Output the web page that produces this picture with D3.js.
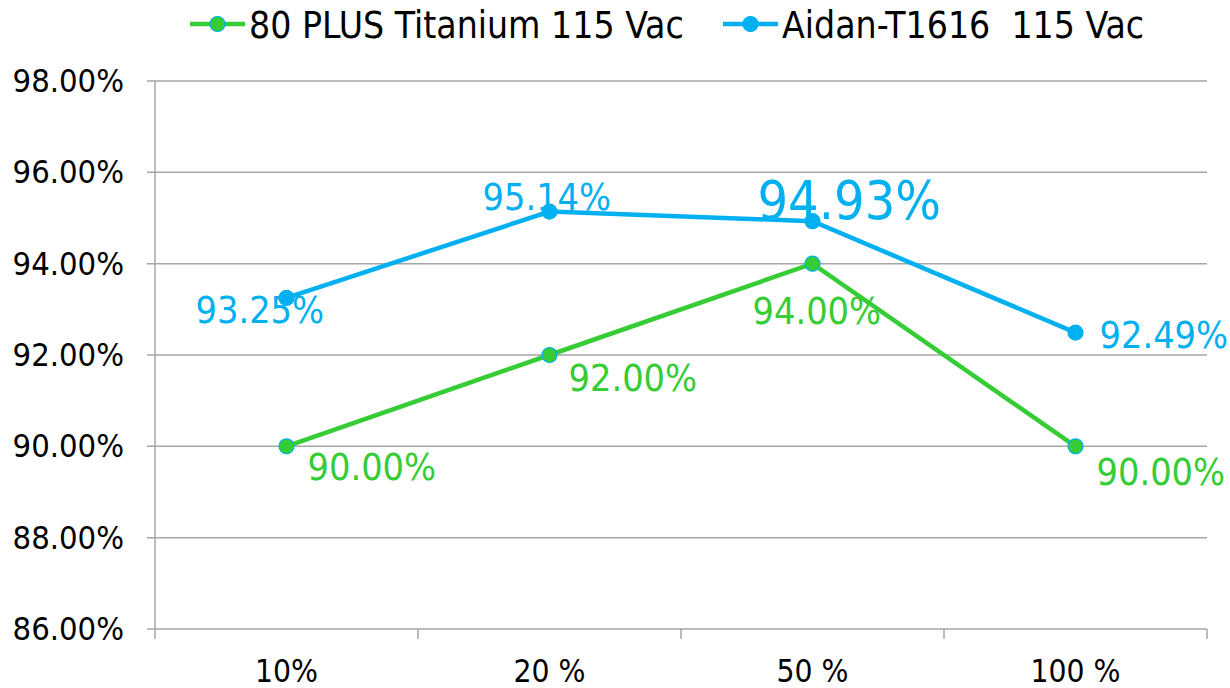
<!DOCTYPE html>
<html>
<head>
<meta charset="utf-8">
<script src="https://cdn.jsdelivr.net/npm/d3@7/dist/d3.min.js"></script>
<style>
  html, body { margin: 0; padding: 0; background: #fff; }
  svg text { font-family: "DejaVu Sans Condensed", "DejaVu Sans", sans-serif; white-space: pre; }
</style>
</head>
<body>
<svg id="chart" width="1230" height="688"></svg>
<script>
'use strict';

// data
var categories = ["10%", "20 %", "50 %", "100 %"];
var titaniumValues = [90.00, 92.00, 94.00, 90.00];
var aidanValues = [93.25, 95.14, 94.93, 92.49];
var seriesNames = ["80 PLUS Titanium 115 Vac", "Aidan-T1616  115 Vac"];
var yTicks = [86, 88, 90, 92, 94, 96, 98];

// label placement (offset from the point, text start)
var titaniumLabelPos = [[21, 34], [19, 36], [-60, 60], [21, 39]];
var aidanLabelPos = [[-91, 25], [-67, -2], [-55, -2], [24, 15]];
var aidanLabelSize = [37.5, 37.5, 53.5, 37.5];

var green = "#35cc35", blue = "#00b0f0", gridColor = "#a6a6a6";
var margin = {top: 81, right: 23, bottom: 59, left: 155};
var W = 1230, H = 688;
var width = W - margin.left - margin.right,
    height = H - margin.top - margin.bottom;

var svg = d3.select("#chart");
var g = svg.append("g").attr("transform", "translate(" + margin.left + "," + margin.top + ")");

var x = d3.scaleBand().domain(categories).range([0, width]).padding(0);
var y = d3.scaleLinear().domain([86, 98]).range([height, 0]);

// horizontal grid + y labels
g.selectAll(".grid")
  .data(yTicks)
  .enter().append("line")
  .attr("class", "grid")
  .attr("x1", -8).attr("x2", width)
  .attr("y1", function(d){ return y(d); })
  .attr("y2", function(d){ return y(d); })
  .attr("stroke", gridColor)
  .attr("stroke-width", 1.5);

g.selectAll(".ylab")
  .data(yTicks)
  .enter().append("text")
  .attr("class", "ylab")
  .attr("x", -31)
  .attr("y", function(d){ return y(d) + 11; })
  .attr("text-anchor", "end")
  .attr("font-size", 32.5)
  .attr("fill", "#000")
  .text(function(d){ return d.toFixed(2) + "%"; });

// y axis line
g.append("line")
  .attr("x1", 0).attr("x2", 0)
  .attr("y1", 0).attr("y2", height)
  .attr("stroke", gridColor).attr("stroke-width", 1.5);

// x ticks at band edges
var edges = categories.map(function(c){ return x(c); }).concat([width]);
g.selectAll(".xtick")
  .data(edges)
  .enter().append("line")
  .attr("x1", function(d){ return d; })
  .attr("x2", function(d){ return d; })
  .attr("y1", height).attr("y2", height + 10)
  .attr("stroke", gridColor).attr("stroke-width", 1.5);

g.selectAll(".xlab")
  .data(categories)
  .enter().append("text")
  .attr("x", function(d){ return x(d) + x.bandwidth() / 2; })
  .attr("y", height + 53)
  .attr("text-anchor", "middle")
  .attr("font-size", 31.5)
  .attr("fill", "#000")
  .text(function(d){ return d; });

var line = d3.line()
  .x(function(d, i){ return x(categories[i]) + x.bandwidth() / 2; })
  .y(function(d){ return y(d); });

function drawSeries(values, color, markerStroke, labelPos, labelSize){
  g.append("path")
    .datum(values)
    .attr("d", line)
    .attr("fill", "none")
    .attr("stroke", color)
    .attr("stroke-width", 4.5);

  g.selectAll(null)
    .data(values)
    .enter().append("circle")
    .attr("cx", function(d, i){ return x(categories[i]) + x.bandwidth() / 2; })
    .attr("cy", function(d){ return y(d); })
    .attr("r", 7.5)
    .attr("fill", color)
    .attr("stroke", markerStroke)
    .attr("stroke-width", 1.2);

  g.selectAll(null)
    .data(values)
    .enter().append("text")
    .attr("x", function(d, i){ return x(categories[i]) + x.bandwidth() / 2 + labelPos[i][0]; })
    .attr("y", function(d, i){ return y(d) + labelPos[i][1]; })
    .attr("font-size", function(d, i){ return labelSize[i]; })
    .attr("fill", color)
    .text(function(d){ return d.toFixed(2) + "%"; });
}

drawSeries(titaniumValues, green, blue, titaniumLabelPos, [37.5, 37.5, 37.5, 37.5]);
drawSeries(aidanValues, blue, blue, aidanLabelPos, aidanLabelSize);

// legend
var legend = [
  {name: seriesNames[0], color: green, stroke: blue, x: 190},
  {name: seriesNames[1], color: blue, stroke: blue, x: 723}
];
var lg = svg.selectAll(".legend")
  .data(legend)
  .enter().append("g")
  .attr("transform", function(d){ return "translate(" + d.x + ",24)"; });
lg.append("line")
  .attr("x1", 0).attr("x2", 55).attr("y1", 0).attr("y2", 0)
  .attr("stroke", function(d){ return d.color; })
  .attr("stroke-width", 4.5);
lg.append("circle")
  .attr("cx", 27.5).attr("cy", 0).attr("r", 7.5)
  .attr("fill", function(d){ return d.color; })
  .attr("stroke", function(d){ return d.stroke; })
  .attr("stroke-width", 1.2);
lg.append("text")
  .attr("x", 59).attr("y", 13.5)
  .attr("font-size", 37)
  .attr("fill", "#000")
  .text(function(d){ return d.name; });
</script>
</body>
</html>
